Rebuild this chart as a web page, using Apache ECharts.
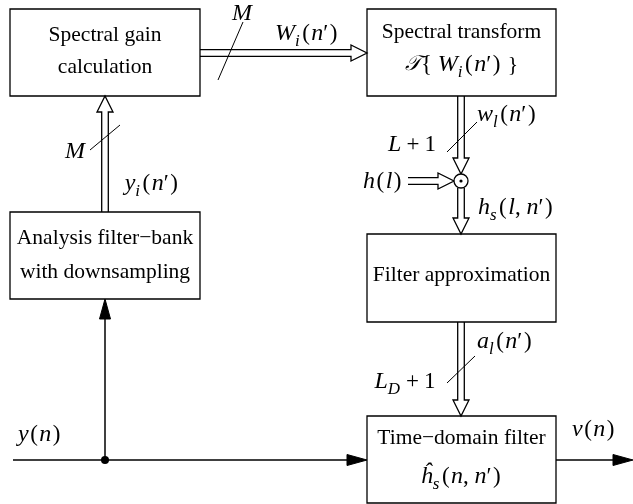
<!DOCTYPE html>
<html><head><meta charset="utf-8">
<script src="https://cdn.jsdelivr.net/npm/echarts@6/dist/echarts.min.js"></script>
<style>html,body{margin:0;padding:0;background:#fff}#c{width:633px;height:504px}</style>
</head><body><div id="c"></div>
<script>
// ---- content (text only) ----
const blockTitles = [
  ['Spectral gain', 'calculation'],
  ['Spectral transform', '{cal|𝒯}{rm|{ }{it|W}{sub|i}{p|(}{it|n}{rm|′}{p|)}{rm| }}'],
  ['Analysis filter\u2212bank', 'with downsampling'],
  ['Filter approximation'],
  ['Time\u2212domain filter', '{it|ĥ}{sub|s}{p|(}{it|n}{rm|, }{it|n}{rm|′}{p|)}']
];
const signalLabels = [
  '{it|W}{sub|i}{p|(}{it|n}{rm|′}{p|)}',
  '{it|y}{sub|i}{p|(}{it|n}{rm|′}{p|)}',
  '{it|w}{sub|l}{p|(}{it|n}{rm|′}{p|)}',
  '{it|h}{p|(}{it|l}{p|)}',
  '{it|h}{sub|s}{p|(}{it|l}{rm|, }{it|n}{rm|′}{p|)}',
  '{it|a}{sub|l}{p|(}{it|n}{rm|′}{p|)}',
  '{it|y}{p|(}{it|n}{p|)}',
  '{it|v}{p|(}{it|n}{p|)}'
];
const busWidthLabels = ['{it|M}', '{it|M}', '{it|L}{op|+}{rm|1}', '{it|L}{sub|D}{op|+}{rm|1}'];

// ---- layout (positions in diagram units) ----
const layout = {
  boxes: [[10, 9, 200, 96], [367, 9, 556, 96], [10, 212, 200, 299], [367, 234, 556, 322], [367, 416, 556, 503]],
  titleY: [[35, 67], [32, 65], [238, 272], [275], [438, 477]],
  signalPos: [[307, 34], [152, 184], [507, 115], [383, 182], [516, 208], [505, 342], [40, 435], [594, 430]],
  busPos: [[242, 14], [75, 152], [412, 145], [405, 382]],
  slashes: [[[218, 80], [243, 22]], [[90, 150], [120, 125]], [[447, 152], [477, 122]], [[447, 383], [475, 356]]],
  dblArrows: [[[105, 212], [105, 96]], [[200, 53], [367, 53]], [[461, 96], [461, 174]], [[408, 181], [454, 181]], [[461, 188], [461, 234]], [[461, 322], [461, 416]]],
  arrows: [[[13, 460], [367, 460]], [[105, 460], [105, 299]], [[556, 460], [633, 460]]],
  node: [105, 460],
  mult: [461, 181]
};

const FONT = 'Liberation Serif';
const MATH = 24;
const rich = {
  it: {fontFamily: FONT, fontStyle: 'italic', fontSize: MATH, fill: '#000'},
  rm: {fontFamily: FONT, fontSize: 23, fill: '#000'},
  p: {fontFamily: FONT, fontSize: 23, fill: '#000', padding: [0, 1.5, 0, 1.5]},
  op: {fontFamily: FONT, fontSize: 23, fill: '#000', padding: [0, 5, 0, 5]},
  sub: {fontFamily: FONT, fontStyle: 'italic', fontSize: 17, fill: '#000', padding: [15, 1, 0, 0]},
  cal: {fontFamily: 'DejaVu Serif', fontStyle: 'italic', fontSize: 21, fill: '#000'}
};

function renderItem(params, api) {
  const C = p => api.coord(p);
  const kids = [];
  const black = '#000';
  layout.boxes.forEach((b, i) => {
    const a = C([b[0], b[1]]), c = C([b[2], b[3]]);
    kids.push({type: 'rect', shape: {x: a[0], y: a[1], width: c[0] - a[0], height: c[1] - a[1]},
      style: {fill: '#fff', stroke: black, lineWidth: 1.3}});
    blockTitles[i].forEach((t, j) => {
      const p = C([(b[0] + b[2]) / 2, layout.titleY[i][j]]);
      kids.push({type: 'text', x: p[0], y: p[1], style: {text: t, rich: rich, align: 'center', verticalAlign: 'middle',
        fontFamily: FONT, fontSize: 21.5, fill: black}});
    });
  });
  layout.dblArrows.forEach(([s, e]) => {
    const p0 = C(s), p1 = C(e);
    let dx = p1[0] - p0[0], dy = p1[1] - p0[1];
    const L = Math.hypot(dx, dy); dx /= L; dy /= L;
    const px = -dy, py = dx, g = 3.3, hw = 8, hl = 16;
    const bx = p1[0] - dx * hl, by = p1[1] - dy * hl;
    kids.push({type: 'polyline', shape: {points: [
      [p0[0] + px * g, p0[1] + py * g], [bx + px * g, by + py * g], [bx + px * hw, by + py * hw], p1,
      [bx - px * hw, by - py * hw], [bx - px * g, by - py * g], [p0[0] - px * g, p0[1] - py * g]]},
      style: {stroke: black, lineWidth: 1.3, fill: null}});
  });
  layout.arrows.forEach(([s, e]) => {
    const p0 = C(s), p1 = C(e);
    let dx = p1[0] - p0[0], dy = p1[1] - p0[1];
    const L = Math.hypot(dx, dy); dx /= L; dy /= L;
    const px = -dy, py = dx, hw = 5.5, hl = 20;
    const bx = p1[0] - dx * hl, by = p1[1] - dy * hl;
    kids.push({type: 'line', shape: {x1: p0[0], y1: p0[1], x2: bx, y2: by}, style: {stroke: black, lineWidth: 1.5}});
    kids.push({type: 'polygon', shape: {points: [[bx + px * hw, by + py * hw], p1, [bx - px * hw, by - py * hw]]},
      style: {fill: black, stroke: black, lineWidth: 1}});
  });
  layout.slashes.forEach(([s, e]) => {
    const a = C(s), b = C(e);
    kids.push({type: 'line', shape: {x1: a[0], y1: a[1], x2: b[0], y2: b[1]}, style: {stroke: black, lineWidth: 1}});
  });
  const n = C(layout.node);
  kids.push({type: 'circle', shape: {cx: n[0], cy: n[1], r: 4}, style: {fill: black}});
  const m = C(layout.mult);
  kids.push({type: 'circle', shape: {cx: m[0], cy: m[1], r: 7}, style: {fill: '#fff', stroke: black, lineWidth: 1.3}});
  kids.push({type: 'circle', shape: {cx: m[0], cy: m[1], r: 1.6}, style: {fill: black}});
  const textAt = (t, pos) => {
    const p = C(pos);
    kids.push({type: 'text', x: p[0], y: p[1], style: {text: t, rich: rich, align: 'center', verticalAlign: 'middle',
      fontFamily: FONT, fontSize: 22, fill: black}});
  };
  signalLabels.forEach((t, i) => textAt(t, layout.signalPos[i]));
  busWidthLabels.forEach((t, i) => textAt(t, layout.busPos[i]));
  return {type: 'group', children: kids};
}

const chart = echarts.init(document.getElementById('c'), null, {renderer: 'canvas'});
chart.setOption({
  animation: false,
  backgroundColor: '#fff',
  grid: {left: 0, right: 0, top: 0, bottom: 0},
  xAxis: {type: 'value', min: 0, max: 633, show: false},
  yAxis: {type: 'value', min: 0, max: 504, inverse: true, show: false},
  series: [{type: 'custom', renderItem: renderItem, data: [[0, 0]], clip: false, silent: true}]
});
</script></body></html>
